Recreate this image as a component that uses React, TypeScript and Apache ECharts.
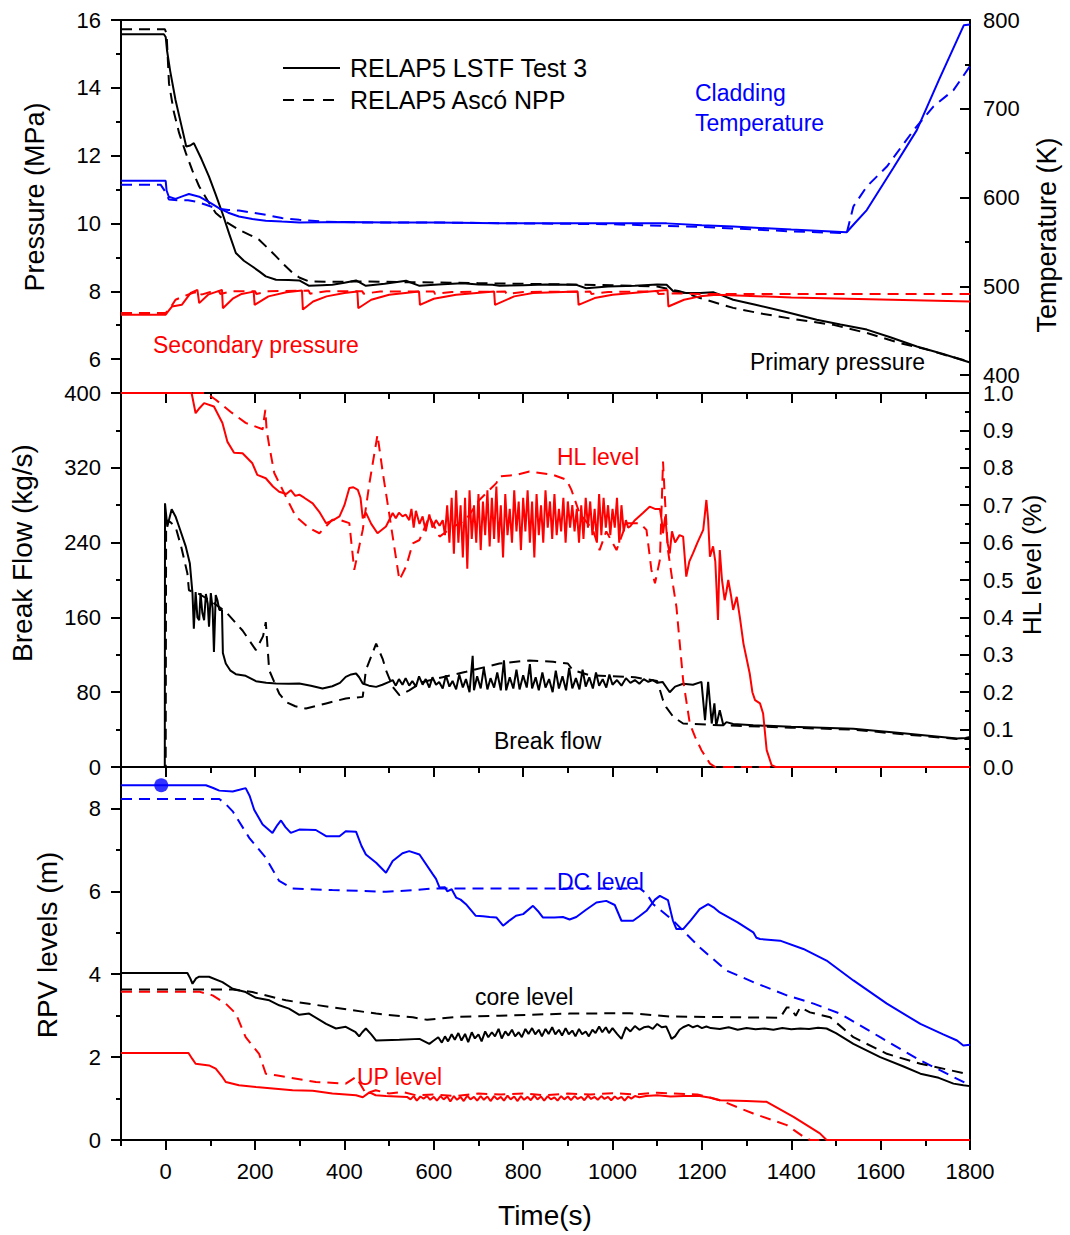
import React, { useEffect, useRef } from 'react';
import * as echarts from 'echarts';

const FONT = '"Liberation Sans", Arial, sans-serif';
const RED = '#ff0000';
const BLUE = '#0000ff';
const BLACK = '#000000';

// ---------- tick values ----------
const timeMajorTicks = [0, 200, 400, 600, 800, 1000, 1200, 1400, 1600, 1800];
const timeMinorTicks = [-100, 100, 300, 500, 700, 900, 1100, 1300, 1500, 1700];
const pressureTicks = [6, 8, 10, 12, 14, 16];
const pressureMinorTicks = [7, 9, 11, 13, 15];
const temperatureTicks = [400, 500, 600, 700, 800];
const temperatureMinorTicks = [450, 550, 650, 750];
const flowTicks = [0, 80, 160, 240, 320, 400];
const flowMinorTicks = [40, 120, 200, 280, 360];
const hlTicks = [0, 0.1, 0.2, 0.3, 0.4, 0.5, 0.6, 0.7, 0.8, 0.9, 1.0];
const hlMinorTicks = [0.05, 0.15, 0.25, 0.35, 0.45, 0.55, 0.65, 0.75, 0.85, 0.95];
const rpvTicks = [0, 2, 4, 6, 8];
const rpvMinorTicks = [1, 3, 5, 7];

// ---------- top panel: pressures (MPa) and cladding temperature (K) ----------
const primaryLSTF = [[-100,15.58],[-4,15.58],[0,15.5],[3,15.1],[10,14.5],[22,13.64],[35,12.9],[46,12.27],[55,12.3],[63,12.37],[80,11.9],[97,11.38],[112,10.85],[127,10.3],[142,9.7],[157,9.13],[175,8.9],[194,8.73],[210,8.58],[224,8.44],[247,8.34],[275,8.33],[299,8.32],[321,8.16],[350,8.18],[373,8.19],[400,8.25],[426,8.32],[448,8.16],[490,8.22],[538,8.31],[568,8.16],[610,8.2],[664,8.24],[700,8.2],[731,8.19],[747,8.16],[800,8.18],[850,8.2],[919,8.19],[941,8.09],[990,8.14],[1050,8.16],[1100,8.2],[1121,8.19],[1136,8.0],[1165,7.95],[1196,7.95],[1225,7.97],[1245,7.88],[1270,7.75],[1320,7.6],[1382,7.41],[1457,7.16],[1510,7.02],[1569,6.87],[1620,6.65],[1681,6.37],[1740,6.15],[1793,5.93],[1800,5.9]];
const primaryAsco = [[-100,15.73],[-2,15.73],[2,15.6],[7.4,14.13],[18,13.3],[30,12.67],[45,12.08],[60,11.55],[75,11.09],[95,10.65],[112,10.31],[135,10.05],[164,9.81],[190,9.65],[209,9.52],[228,9.28],[247,9.03],[265,8.78],[284,8.54],[300,8.4],[321,8.29],[380,8.28],[448,8.29],[520,8.27],[600,8.26],[700,8.24],[800,8.22],[900,8.2],[1000,8.18],[1100,8.14],[1150,8.0],[1196,7.8],[1270,7.51],[1330,7.35],[1405,7.18],[1494,7.01],[1569,6.77],[1644,6.47],[1704,6.28],[1750,6.1],[1800,5.92]];
const secondaryLSTF = [[-100,7.31],[0,7.31],[5,7.4],[14,7.55],[36,7.6],[56,7.95],[71,8.04],[75,7.65],[95,7.9],[126,8.04],[128,7.5],[150,7.78],[170,7.92],[197,7.99],[199,7.6],[230,7.85],[270,7.97],[305,8.02],[307,7.46],[330,7.7],[360,7.85],[400,7.95],[429,7.99],[431,7.5],[460,7.75],[500,7.9],[567,7.99],[569,7.6],[600,7.78],[650,7.9],[735,7.99],[737,7.6],[780,7.85],[822,7.95],[922,7.99],[924,7.6],[960,7.8],[1000,7.9],[1045,7.95],[1123,8.04],[1125,7.55],[1160,7.75],[1196,7.85],[1233,7.9],[1400,7.82],[1600,7.76],[1800,7.7]];
const secondaryAsco = [[-100,7.36],[0,7.36],[10,7.5],[22,7.75],[40,7.85],[60,7.95],[78,8.0],[80,7.9],[100,7.98],[120,8.0],[122,7.92],[150,8.0],[200,8.0],[203,7.92],[230,8.0],[320,8.02],[323,7.93],[360,8.0],[440,8.0],[443,7.93],[480,7.99],[600,7.99],[603,7.92],[640,7.98],[760,7.99],[763,7.92],[800,7.98],[950,7.99],[953,7.92],[990,7.98],[1100,8.0],[1103,7.92],[1140,7.94],[1200,7.92],[1800,7.92]];
const claddingLSTF = [[-100,618.9],[0,618.9],[2,608],[7,601],[22,598.6],[40,602],[52,604],[75,601],[100,594],[120,588],[140,583],[164,578.7],[194,576],[224,574],[260,573],[299,572],[400,572.5],[500,572],[600,572],[747,571],[900,571],[1000,571],[1121,571],[1200,569],[1270,567.5],[1400,564],[1524,561],[1540,570],[1569,586],[1629,634],[1681,676],[1730,732],[1786,794],[1800,795]];
const claddingAsco = [[-100,614.4],[-11,614.4],[0,606],[7,598],[30,597],[50,597],[67,595.6],[90,592],[112,588],[140,586],[164,585.5],[194,583],[224,580.6],[260,577],[299,575],[350,573],[450,572],[600,572],[800,571],[1000,570],[1200,567],[1400,562],[1524,560],[1539,590],[1569,612.5],[1614,635],[1674,676],[1718,702.5],[1763,721],[1800,748]];

// ---------- middle panel: break flow (kg/s) and HL level ----------
const breakLSTF = [[-100,0],[-2,0],[-1.5,282],[3.6,257],[13.4,275.7],[22,268],[30,257],[45,235.7],[54,218],[60,185.7],[63,148],[67,187],[71,160],[75,157],[78,186],[82,165],[86,157],[90,185],[94,175],[97,150],[101,186],[105,170],[108,123],[112,184],[116,178],[120,168],[126,168],[128,122],[134.5,110.7],[145,103],[157,99.3],[179,97.5],[202,91.8],[225,90],[247,89.3],[275,89],[299,89.3],[325,87],[351,84],[373,86.4],[390,90],[403,96.4],[415,99],[426,100],[433,96],[441,89.3],[455,87],[471,85.7],[485,88],[500,91],[508,93],[515,87],[522,94],[530,88],[537,95],[545,87],[552,92],[560,86],[567,97],[575,88],[582,94],[590,85],[597,96],[605,88],[612,91],[620,84],[627,98],[635,86],[642,92],[650,83],[657,99],[665,85],[672,94],[680,80],[687,119],[690,82],[697,97],[705,84],[712,106],[720,83],[727,95],[735,85],[742,101],[750,82],[757,114],[762,82],[770,96],[778,84],[785,104],[792,83],[800,98],[808,85],[815,110],[820,84],[828,96],[835,82],[843,101],[850,85],[858,94],[866,80],[873,103],[880,84],[888,97],[896,82],[903,106],[910,84],[918,95],[926,83],[933,104],[940,86],[948,96],[956,84],[963,101],[970,87],[978,94],[986,85],[993,99],[1000,88],[1010,93],[1020,87],[1030,95],[1040,90],[1050,93],[1060,89],[1070,94],[1080,91],[1090,93],[1100,90],[1112,91],[1128,80],[1140,86],[1158,89],[1180,88],[1199,91],[1207,50],[1214,91],[1222,46.5],[1228,68],[1232,44],[1240,60.7],[1248,44.7],[1255,48],[1270,46],[1315,44.7],[1400,43],[1539,41],[1650,36],[1771,30.4],[1790,31],[1800,32]];
const breakAsco = [[-100,0],[0,0],[1,264],[10,262],[22,257],[35,235],[48.6,207],[52,189],[75,185],[100,178],[134.5,166],[172,146],[202,125],[218,140],[224,155],[231.6,103.6],[254,78.6],[269,69.6],[290,65],[314,62.5],[359,68],[403,73.3],[441,75],[448,103.6],[471,132],[486,115],[493,103.6],[508,85.7],[523,76.8],[545,82],[575,91],[620,96],[672,101.8],[747,110.7],[814,114],[867,112.5],[900,110.7],[911,103.6],[950,98],[1000,97],[1050,96],[1100,92],[1113,71.4],[1120,64],[1136,53.6],[1158,46.5],[1240,44.7],[1400,42],[1539,40],[1650,35],[1771,30],[1800,30]];
const hlLSTF = [[-100,1.0],[58,1.0],[67,0.946],[76,0.96],[86,0.973],[108,0.964],[127,0.92],[138,0.87],[153,0.84],[172,0.839],[194,0.812],[205,0.781],[224,0.772],[240,0.75],[254,0.736],[270,0.73],[280,0.74],[290,0.725],[299,0.728],[310,0.72],[329,0.705],[345,0.68],[359,0.652],[375,0.66],[389,0.67],[400,0.7],[411,0.746],[420,0.748],[430,0.741],[436,0.72],[441,0.665],[448,0.68],[460,0.65],[474,0.625],[493,0.643],[508,0.679],[515,0.665],[522,0.68],[530,0.67],[537,0.675],[545,0.66],[550,0.69],[555,0.64],[560,0.685],[568,0.65],[575,0.67],[582,0.63],[590,0.675],[597,0.64],[605,0.66],[613,0.645],[620,0.66],[625,0.62],[630,0.7],[635,0.6],[640,0.72],[645,0.57],[650,0.74],[655,0.6],[660,0.7],[665,0.56],[670,0.72],[675,0.53],[680,0.74],[685,0.61],[690,0.7],[695,0.6],[700,0.73],[705,0.58],[710,0.71],[715,0.62],[720,0.74],[725,0.59],[730,0.72],[735,0.61],[740,0.75],[745,0.6],[750,0.7],[755,0.56],[760,0.73],[765,0.62],[770,0.69],[775,0.6],[780,0.74],[785,0.63],[790,0.71],[795,0.58],[800,0.72],[805,0.63],[810,0.74],[815,0.6],[820,0.71],[825,0.56],[830,0.73],[835,0.62],[840,0.7],[845,0.6],[850,0.74],[855,0.64],[860,0.71],[865,0.61],[870,0.73],[875,0.62],[880,0.69],[885,0.63],[890,0.72],[895,0.6],[900,0.71],[905,0.64],[910,0.7],[915,0.63],[920,0.69],[925,0.6],[930,0.7],[935,0.61],[940,0.72],[945,0.64],[950,0.71],[955,0.62],[960,0.69],[965,0.6],[970,0.73],[975,0.62],[980,0.72],[985,0.64],[990,0.7],[995,0.62],[1000,0.69],[1005,0.64],[1010,0.72],[1015,0.6],[1020,0.7],[1025,0.63],[1030,0.66],[1035,0.64],[1039,0.643],[1050,0.66],[1068,0.679],[1083,0.696],[1095,0.69],[1106,0.69],[1110,0.66],[1113,0.625],[1118,0.67],[1123,0.6],[1128,0.571],[1133,0.63],[1140,0.6],[1150,0.62],[1158,0.616],[1165,0.509],[1172,0.55],[1180,0.571],[1190,0.6],[1203,0.634],[1210,0.714],[1214,0.66],[1218,0.562],[1225,0.59],[1230,0.55],[1236,0.393],[1240,0.58],[1245,0.5],[1251,0.446],[1255,0.47],[1259,0.5],[1265,0.46],[1270,0.42],[1278,0.455],[1285,0.4],[1293,0.33],[1300,0.29],[1307,0.25],[1313,0.2],[1319,0.179],[1330,0.17],[1337,0.143],[1345,0.045],[1356,0.005],[1365,0],[1800,0]];
const hlAsco = [[-100,1.0],[90,1.0],[112,0.982],[145,0.95],[179,0.92],[217,0.903],[220,0.93],[223,0.955],[226,0.9],[232,0.857],[243,0.786],[269,0.723],[291,0.67],[320,0.64],[344,0.625],[373,0.661],[389,0.661],[411,0.652],[422,0.527],[441,0.634],[456,0.759],[474,0.888],[486,0.786],[500,0.679],[523,0.5],[538,0.536],[553,0.598],[568,0.607],[590,0.67],[613,0.616],[640,0.64],[672,0.661],[702,0.714],[740,0.759],[747,0.777],[785,0.781],[814,0.79],[867,0.781],[897,0.768],[908,0.741],[926,0.679],[956,0.634],[971,0.58],[986,0.63],[1009,0.58],[1031,0.652],[1061,0.652],[1076,0.634],[1087,0.527],[1095,0.491],[1106,0.554],[1110,0.7],[1113,0.817],[1117,0.723],[1124,0.58],[1136,0.482],[1143,0.428],[1158,0.232],[1173,0.116],[1185,0.08],[1199,0.045],[1218,0.009],[1230,0],[1800,0]];

// ---------- bottom panel: RPV levels (m) ----------
const dcLSTF = [[-100,8.56],[90,8.56],[105,8.5],[120,8.43],[150,8.41],[165,8.45],[179,8.49],[188,8.3],[198,7.97],[217,7.61],[239,7.41],[250,7.6],[258,7.71],[268,7.55],[280,7.41],[299,7.49],[336,7.48],[359,7.33],[389,7.33],[403,7.45],[426,7.44],[438,7.1],[448,6.89],[471,6.69],[493,6.45],[508,6.73],[530,6.92],[545,6.97],[568,6.89],[598,6.41],[605,6.3],[613,6.09],[625,6.1],[630,6.0],[640,6.05],[650,5.85],[660,5.8],[672,5.69],[694,5.41],[710,5.4],[725,5.38],[740,5.37],[755,5.17],[770,5.3],[784,5.41],[800,5.45],[822,5.65],[835,5.5],[844,5.37],[870,5.37],[889,5.38],[904,5.32],[919,5.38],[940,5.55],[964,5.73],[986,5.77],[1005,5.67],[1020,5.29],[1046,5.29],[1060,5.4],[1076,5.53],[1095,5.8],[1106,5.89],[1124,5.79],[1135,5.3],[1143,5.09],[1158,5.09],[1175,5.3],[1195,5.57],[1214,5.69],[1228,5.6],[1240,5.49],[1280,5.25],[1315,5.01],[1322,4.88],[1330,4.85],[1375,4.81],[1427,4.61],[1479,4.33],[1539,3.85],[1614,3.29],[1689,2.8],[1740,2.55],[1771,2.4],[1785,2.28],[1800,2.3]];
const dcAsco = [[-100,8.23],[120,8.23],[135,8.1],[150,7.93],[187,7.29],[224,6.81],[254,6.25],[284,6.07],[373,6.03],[493,5.99],[560,6.03],[600,6.07],[1061,6.07],[1076,5.95],[1091,5.69],[1136,5.29],[1195,4.65],[1255,4.09],[1315,3.81],[1390,3.49],[1450,3.29],[1509,3.05],[1599,2.48],[1689,1.92],[1800,1.32]];
const coreLSTF = [[-100,4.03],[48.6,4.03],[55,3.9],[60,3.77],[68,3.9],[75,3.94],[97,3.94],[127,3.81],[150,3.65],[179,3.57],[202,3.43],[232,3.37],[254,3.25],[276,3.17],[299,3.02],[321,3.05],[359,2.8],[381,2.69],[403,2.73],[425,2.6],[433,2.5],[440,2.6],[448,2.69],[460,2.55],[471,2.4],[523,2.42],[568,2.44],[590,2.32],[600,2.4],[610,2.48],[618,2.35],[625,2.5],[632,2.38],[640,2.55],[647,2.42],[655,2.58],[662,2.4],[670,2.56],[677,2.36],[685,2.6],[692,2.45],[700,2.55],[707,2.38],[715,2.62],[722,2.48],[730,2.6],[737,2.5],[745,2.68],[752,2.45],[760,2.62],[767,2.52],[775,2.66],[782,2.5],[790,2.6],[797,2.48],[805,2.68],[812,2.56],[820,2.7],[827,2.55],[835,2.66],[842,2.5],[850,2.68],[857,2.56],[865,2.72],[872,2.55],[880,2.66],[887,2.52],[895,2.7],[902,2.55],[910,2.64],[917,2.5],[925,2.68],[932,2.55],[940,2.62],[947,2.5],[955,2.66],[962,2.58],[970,2.74],[977,2.6],[985,2.72],[992,2.58],[1000,2.7],[1010,2.56],[1020,2.44],[1030,2.72],[1040,2.62],[1050,2.75],[1060,2.66],[1070,2.72],[1080,2.74],[1090,2.68],[1100,2.8],[1110,2.72],[1120,2.74],[1128,2.55],[1132,2.44],[1140,2.5],[1150,2.66],[1158,2.72],[1170,2.78],[1180,2.72],[1190,2.76],[1200,2.7],[1210,2.74],[1220,2.7],[1240,2.68],[1260,2.72],[1280,2.66],[1300,2.7],[1320,2.67],[1340,2.69],[1360,2.66],[1380,2.7],[1400,2.67],[1420,2.69],[1440,2.68],[1460,2.71],[1479,2.69],[1500,2.58],[1539,2.32],[1599,2.0],[1650,1.78],[1689,1.6],[1730,1.5],[1763,1.36],[1785,1.32],[1800,1.3]];
const coreAsco = [[-100,3.63],[150,3.63],[194,3.57],[269,3.37],[373,3.2],[471,3.05],[553,2.96],[585,2.9],[613,2.93],[650,2.97],[747,3.0],[904,3.05],[1039,3.06],[1128,2.98],[1375,2.95],[1390,3.2],[1397,3.2],[1410,3.0],[1420,3.2],[1442,3.08],[1487,2.96],[1539,2.48],[1614,2.08],[1689,1.84],[1800,1.58]];
const upLSTF = [[-100,2.1],[51,2.1],[60,1.95],[67,1.84],[97,1.8],[112,1.72],[125,1.55],[134.5,1.4],[164,1.32],[202,1.28],[284,1.2],[329,1.19],[373,1.12],[426,1.08],[441,1.03],[456,1.15],[470,1.08],[493,1.06],[540,1.04],[548,0.98],[555,1.06],[562,0.95],[570,1.05],[577,1.0],[585,1.06],[592,0.97],[600,1.04],[607,0.95],[615,1.06],[622,0.98],[630,1.05],[637,0.93],[645,1.06],[652,0.97],[660,1.04],[667,0.94],[675,1.07],[682,0.98],[690,1.04],[697,0.95],[705,1.06],[712,0.97],[720,1.05],[727,0.94],[735,1.06],[742,0.98],[750,1.04],[757,0.95],[765,1.07],[772,0.98],[780,1.05],[787,0.94],[795,1.06],[802,0.97],[810,1.04],[817,0.96],[825,1.07],[832,0.98],[840,1.05],[847,0.95],[855,1.06],[862,0.98],[870,1.03],[877,0.95],[885,1.06],[892,0.98],[900,1.05],[907,0.96],[915,1.06],[922,0.99],[930,1.04],[937,0.96],[945,1.07],[952,0.99],[960,1.04],[967,0.97],[975,1.06],[982,0.99],[990,1.04],[997,0.96],[1005,1.05],[1012,0.99],[1020,1.04],[1027,0.95],[1035,1.05],[1042,1.0],[1050,1.06],[1060,1.03],[1075,1.06],[1100,1.08],[1130,1.05],[1160,1.06],[1195,1.06],[1220,1.02],[1240,0.96],[1300,0.94],[1345,0.92],[1405,0.56],[1464,0.16],[1479,0],[1800,0]];
const upAsco = [[-100,3.58],[75,3.58],[105,3.49],[134.5,3.29],[157,3.05],[179,2.48],[209,2.08],[224,1.6],[247,1.56],[336,1.4],[403,1.36],[426,1.52],[448,1.12],[470,1.2],[500,1.12],[530,1.16],[560,1.08],[600,1.1],[650,1.06],[700,1.12],[750,1.1],[800,1.12],[850,1.08],[900,1.12],[950,1.1],[1000,1.13],[1050,1.1],[1100,1.14],[1136,1.12],[1190,1.1],[1240,0.96],[1315,0.64],[1390,0.36],[1427,0.08],[1442,0],[1800,0]];
const startMarker = [[-10, 8.56]];

// ---------- axis helpers ----------
const axisLineStyle = { color: BLACK, width: 2 };
const labelText = { color: BLACK, fontSize: 22, fontFamily: FONT };
const plain = (v: number) => String(v);

type AxOpts = { line?: boolean; ticks?: number[]; inside?: boolean; len?: number; labels?: boolean; margin?: number; fmt?: (v: number) => string };

function timeAxis(gridIndex: number, position: string, o: AxOpts) {
  return {
    type: 'value', gridIndex, position, min: -100, max: 1800,
    splitLine: { show: false },
    axisLine: { show: !!o.line, onZero: false, lineStyle: axisLineStyle },
    axisTick: { show: !!o.ticks, inside: !!o.inside, length: o.len || 10, customValues: o.ticks, lineStyle: { color: BLACK, width: 2 } },
    axisLabel: { show: !!o.labels, customValues: o.ticks, margin: o.margin || 20, formatter: plain, ...labelText },
  };
}

function valueAxis(gridIndex: number, position: string, min: number, max: number, o: AxOpts) {
  return {
    type: 'value', gridIndex, position, min, max,
    splitLine: { show: false },
    axisLine: { show: !!o.line, onZero: false, lineStyle: axisLineStyle },
    axisTick: { show: !!o.ticks, inside: !!o.inside, length: o.len || 10, customValues: o.ticks, lineStyle: { color: BLACK, width: 2 } },
    axisLabel: { show: !!o.labels, customValues: o.ticks, margin: o.margin || 20, formatter: o.fmt || plain, ...labelText },
  };
}

function line(data: number[][], color: string, dashed: boolean, xi: number, yi: number) {
  return {
    type: 'line', data, xAxisIndex: xi, yAxisIndex: yi, showSymbol: false, symbol: 'none', silent: true,
    lineStyle: { color, width: 2, type: dashed ? [11, 7] : 'solid' }, itemStyle: { color },
  };
}

function txt(x: number, y: number, text: string, color: string, size: number, align = 'left', rotation = 0) {
  return {
    type: 'text', x, y, rotation, silent: true,
    style: { text, fill: color, fontSize: size, fontFamily: FONT, align, verticalAlign: 'middle' },
  };
}

const option = {
  animation: false,
  backgroundColor: '#ffffff',
  grid: [
    { left: 121, right: 100, top: 20, height: 373 },
    { left: 121, right: 100, top: 393, height: 374 },
    { left: 121, right: 100, top: 767, height: 373 },
  ],
  xAxis: [
    timeAxis(0, 'bottom', { line: true }),
    timeAxis(0, 'top', { line: true }),
    timeAxis(1, 'bottom', { line: true }),
    timeAxis(1, 'top', { line: true, ticks: timeMajorTicks, inside: true, len: 10 }),
    timeAxis(1, 'top', { ticks: timeMinorTicks, inside: true, len: 6 }),
    timeAxis(2, 'bottom', { line: true, ticks: timeMajorTicks, len: 10, labels: true, margin: 20 }),
    timeAxis(2, 'bottom', { ticks: timeMinorTicks, len: 6 }),
    timeAxis(2, 'top', { line: true, ticks: timeMajorTicks, inside: true, len: 10 }),
    timeAxis(2, 'top', { ticks: timeMinorTicks, inside: true, len: 6 }),
  ],
  yAxis: [
    valueAxis(0, 'left', 5, 16, { line: true, ticks: pressureTicks, len: 10, labels: true, margin: 20 }),
    valueAxis(0, 'left', 5, 16, { ticks: pressureMinorTicks, len: 5 }),
    valueAxis(0, 'right', 380, 800, { line: true, ticks: temperatureTicks, inside: true, len: 10, labels: true, margin: 13 }),
    valueAxis(0, 'right', 380, 800, { ticks: temperatureMinorTicks, inside: true, len: 5 }),
    valueAxis(1, 'left', 0, 400, { line: true, ticks: flowTicks, len: 10, labels: true, margin: 20 }),
    valueAxis(1, 'left', 0, 400, { ticks: flowMinorTicks, len: 5 }),
    valueAxis(1, 'right', 0, 1, { line: true, ticks: hlTicks, inside: true, len: 10, labels: true, margin: 13, fmt: (v: number) => v.toFixed(1) }),
    valueAxis(1, 'right', 0, 1, { ticks: hlMinorTicks, inside: true, len: 5 }),
    valueAxis(2, 'left', 0, 9, { line: true, ticks: rpvTicks, len: 10, labels: true, margin: 20 }),
    valueAxis(2, 'left', 0, 9, { ticks: rpvMinorTicks, len: 5 }),
    valueAxis(2, 'right', 0, 9, { line: true }),
  ],
  series: [
    line(primaryAsco, BLACK, true, 0, 0),
    line(primaryLSTF, BLACK, false, 0, 0),
    line(secondaryAsco, RED, true, 0, 0),
    line(secondaryLSTF, RED, false, 0, 0),
    line(claddingAsco, BLUE, true, 0, 2),
    line(claddingLSTF, BLUE, false, 0, 2),
    line(breakAsco, BLACK, true, 2, 4),
    line(breakLSTF, BLACK, false, 2, 4),
    line(hlAsco, RED, true, 2, 6),
    line(hlLSTF, RED, false, 2, 6),
    line(dcAsco, BLUE, true, 5, 8),
    line(dcLSTF, BLUE, false, 5, 8),
    line(coreAsco, BLACK, true, 5, 8),
    line(coreLSTF, BLACK, false, 5, 8),
    line(upAsco, RED, true, 5, 8),
    line(upLSTF, RED, false, 5, 8),
    {
      type: 'scatter', data: startMarker, xAxisIndex: 5, yAxisIndex: 8, symbolSize: 14, silent: true,
      itemStyle: { color: BLUE }, clip: false, z: 5,
    },
  ],
  graphic: [
    { type: 'line', silent: true, shape: { x1: 283, y1: 68, x2: 340, y2: 68 }, style: { stroke: BLACK, lineWidth: 2 } },
    { type: 'line', silent: true, shape: { x1: 283, y1: 100, x2: 340, y2: 100 }, style: { stroke: BLACK, lineWidth: 2, lineDash: [11, 9] } },
    txt(350, 68, 'RELAP5 LSTF Test 3', BLACK, 25),
    txt(350, 100, 'RELAP5 Ascó NPP', BLACK, 25),
    txt(695, 93, 'Cladding', BLUE, 23),
    txt(695, 123, 'Temperature', BLUE, 23),
    txt(153, 345, 'Secondary pressure', RED, 23),
    txt(750, 362, 'Primary pressure', BLACK, 23),
    txt(557, 457, 'HL level', RED, 23),
    txt(494, 741, 'Break flow', BLACK, 23),
    txt(557, 882, 'DC level', BLUE, 23),
    txt(475, 997, 'core level', BLACK, 23),
    txt(357, 1077, 'UP level', RED, 23),
    txt(35, 197, 'Pressure (MPa)', BLACK, 27, 'center', Math.PI / 2),
    txt(1047, 235, 'Temperature (K)', BLACK, 27, 'center', Math.PI / 2),
    txt(22, 553, 'Break Flow (kg/s)', BLACK, 28, 'center', Math.PI / 2),
    txt(1032, 565, 'HL level (%)', BLACK, 26, 'center', Math.PI / 2),
    txt(47, 945, 'RPV levels (m)', BLACK, 28, 'center', Math.PI / 2),
    txt(545, 1215, 'Time(s)', BLACK, 28, 'center'),
  ],
};

export default function App() {
  const ref = useRef<HTMLDivElement>(null);
  useEffect(() => {
    if (!ref.current) return;
    const chart = echarts.init(ref.current, null, { renderer: 'svg' });
    chart.setOption(option as any);
    return () => chart.dispose();
  }, []);
  return (
    <div
      ref={ref}
      style={{ position: 'absolute', left: 0, top: 0, width: 1070, height: 1235, background: '#ffffff' }}
    />
  );
}
